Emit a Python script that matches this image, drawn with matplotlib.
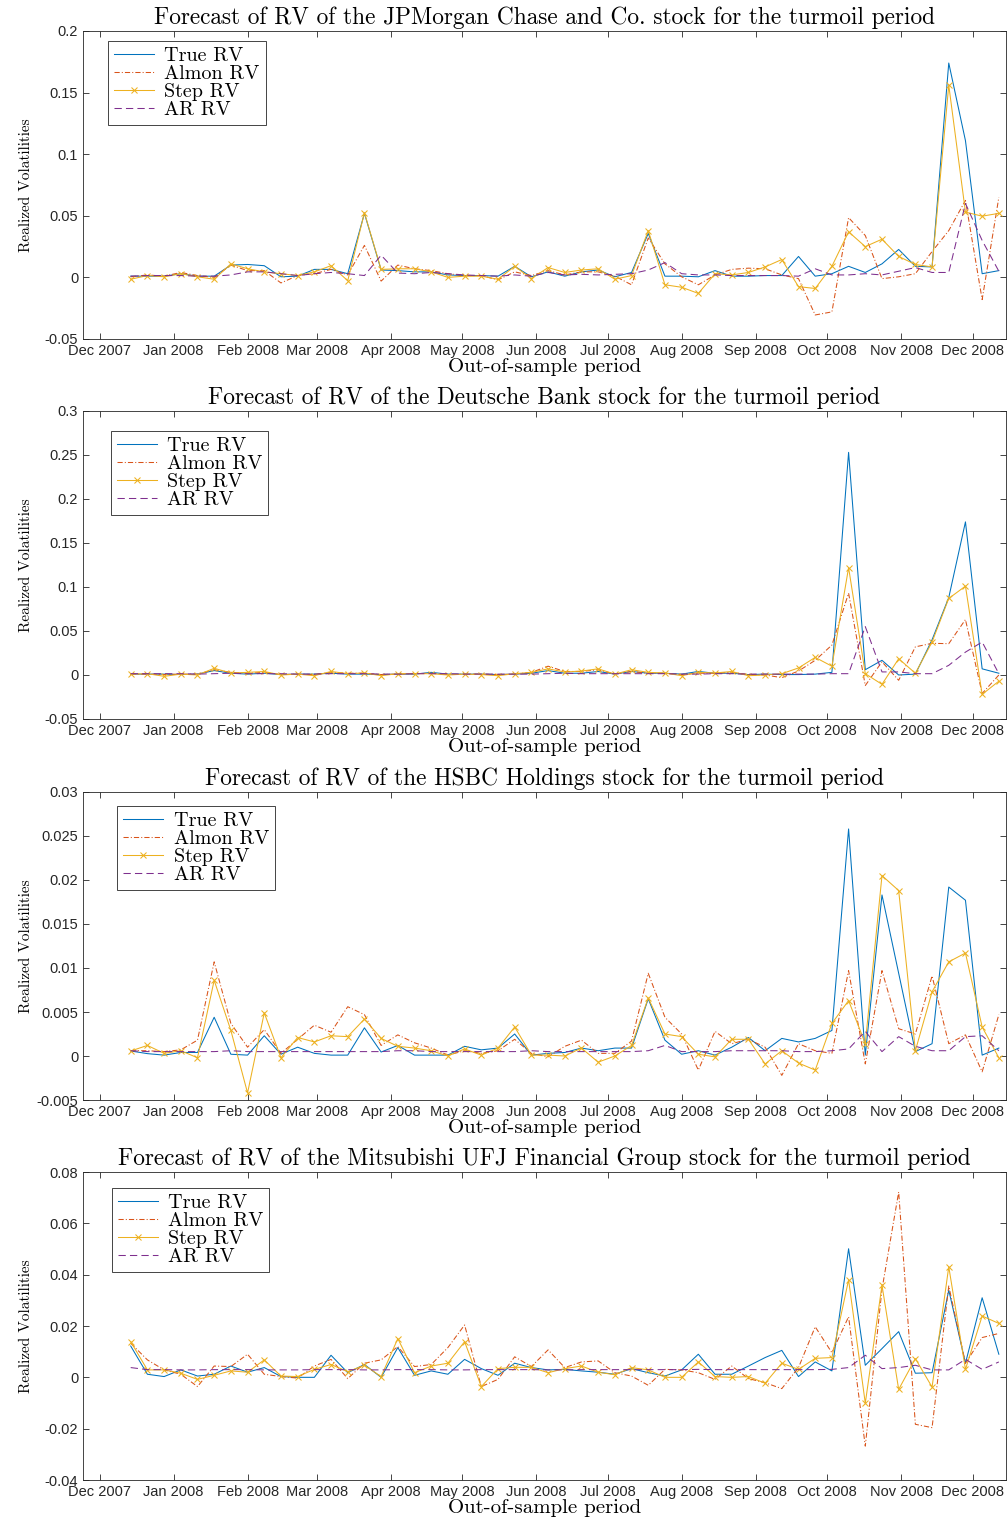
import datetime as dt
import numpy as np
import pandas as pd
import matplotlib
matplotlib.use("Agg")
import matplotlib.pyplot as plt
import matplotlib.dates as mdates
from matplotlib.ticker import FormatStrFormatter

# weekly out-of-sample dates
dates = pd.date_range("2007-12-14", periods=53, freq="7D")

# JPMorgan
true_jpm = [0.001, 0.001, 0.001, 0.003, 0.001, 0.001, 0.010, 0.0105, 0.0095, 0.0005,
            0.001, 0.0065, 0.0065, 0.003, 0.052, 0.006, 0.0055, 0.0045, 0.0045, 0.002,
            0.0015, 0.0015, 0.001, 0.009, 0.0005, 0.0045, 0.001, 0.0045, 0.006, 0.0005,
            0.004, 0.0357, 0.001, 0.001, 0.0005, 0.0055, 0.001, 0.001, 0.0015, 0.0015,
            0.017, 0.001, 0.003, 0.009, 0.004, 0.011, 0.0227, 0.009, 0.0085, 0.174,
            0.111, 0.003, 0.0055]
almon_jpm = [0.0005, 0.002, 0.001, 0.004, 0.0015, 0.0, 0.010, 0.0055, 0.0055, -0.0045,
             0.0015, 0.003, 0.0065, 0.002, 0.026, -0.003, 0.010, 0.007, 0.0055, 0.003,
             0.0015, 0.0015, -0.002, 0.0045, 0.0015, 0.0055, 0.002, 0.0045, 0.0045, 0.001,
             -0.006, 0.032, 0.011, 0.0005, -0.006, 0.002, 0.0065, 0.0075, 0.007, 0.002,
             -0.001, -0.0305, -0.028, 0.0485, 0.034, -0.001, 0.0005, 0.003, 0.021, 0.038,
             0.0625, -0.018, 0.065]
step_jpm = [-0.0015, 0.0015, 0.0005, 0.003, 0.0005, -0.0015, 0.011, 0.007, 0.0045, 0.003,
            0.0015, 0.0045, 0.0095, -0.0027, 0.0525, 0.0065, 0.007, 0.007, 0.0045, 0.0,
            0.001, 0.001, -0.0015, 0.009, -0.001, 0.008, 0.004, 0.006, 0.007, -0.0015,
            0.0015, 0.038, -0.006, -0.008, -0.013, 0.003, 0.002, 0.004, 0.0085, 0.0145,
            -0.0075, -0.009, 0.009, 0.037, 0.025, 0.031, 0.017, 0.0105, 0.0085, 0.156,
            0.053, 0.0497, 0.052]
ar_jpm = [0.001, 0.0015, 0.0015, 0.0015, 0.001, 0.001, 0.002, 0.0045, 0.0045, 0.003,
          0.0015, 0.003, 0.004, 0.003, 0.0015, 0.018, 0.0035, 0.003, 0.004, 0.003,
          0.002, 0.0015, 0.001, 0.002, 0.001, 0.004, 0.002, 0.0025, 0.002, 0.0025,
          0.003, 0.006, 0.012, 0.003, 0.002, 0.002, 0.0015, 0.0015, 0.0015, 0.0015,
          0.001, 0.007, 0.002, 0.002, 0.003, 0.002, 0.005, 0.008, 0.004, 0.004,
          0.060, 0.030, 0.005]

# Deutsche Bank
true_db = [0.001, 0.001, 0.001, 0.0005, 0.001, 0.005, 0.002, 0.001, 0.002, 0.0005,
           0.001, 0.001, 0.002, 0.001, 0.001, 0.0005, 0.001, 0.001, 0.003, 0.001,
           0.001, 0.001, 0.0005, 0.001, 0.002, 0.005, 0.002, 0.002, 0.004, 0.001,
           0.004, 0.002, 0.002, 0.001, 0.004, 0.002, 0.002, 0.0005, 0.001, 0.0005,
           0.0005, 0.001, 0.003, 0.253, 0.006, 0.0167, 0.0, 0.001, 0.040, 0.088,
           0.174, 0.007, 0.002]
almon_db = [0.001, 0.001, 0.0005, 0.001, 0.001, 0.006, 0.003, 0.002, 0.003, 0.0005,
            0.001, 0.0005, 0.003, 0.002, 0.002, 0.0005, 0.001, 0.0015, 0.002, 0.0005,
            0.001, 0.001, 0.0005, 0.001, 0.003, 0.010, 0.004, 0.004, 0.006, 0.001,
            0.004, 0.002, 0.002, 0.0005, 0.002, 0.002, 0.003, 0.0005, 0.0, -0.003,
            0.0045, 0.0167, 0.034, 0.093, -0.012, 0.015, -0.006, 0.032, 0.036, 0.0356,
            0.063, -0.021, 0.0]
step_db = [0.001, 0.0015, -0.0015, 0.001, 0.0, 0.0076, 0.0023, 0.003, 0.004, 0.0,
           0.001, -0.0008, 0.004, 0.0015, 0.0023, -0.0008, 0.0015, 0.0015, 0.0015, 0.0,
           0.001, 0.0005, -0.0008, 0.0015, 0.003, 0.007, 0.0034, 0.0045, 0.007, 0.001,
           0.006, 0.003, 0.0023, -0.0008, 0.003, 0.0023, 0.004, -0.0008, 0.0, 0.0015,
           0.008, 0.020, 0.010, 0.122, 0.0015, -0.0106, 0.0185, 0.002, 0.0375, 0.087,
           0.101, -0.022, -0.007]
ar_db = [0.0015, 0.0015, 0.0015, 0.0015, 0.001, 0.0015, 0.002, 0.0015, 0.0015, 0.0015,
         0.001, 0.001, 0.0015, 0.0015, 0.0015, 0.001, 0.001, 0.0015, 0.0015, 0.0015,
         0.001, 0.001, 0.001, 0.001, 0.001, 0.0015, 0.002, 0.0015, 0.0015, 0.0015,
         0.0015, 0.0015, 0.0015, 0.001, 0.001, 0.0015, 0.0015, 0.001, 0.001, 0.001,
         0.001, 0.001, 0.0015, 0.0015, 0.055, 0.0035, 0.0035, 0.0015, 0.0015, 0.011,
         0.026, 0.0375, 0.0015]

# HSBC
true_hsbc = [0.00057, 0.00027, 0.0001, 0.0004, 0.0004, 0.0044, 0.0002, 0.0001, 0.0023, 0.0002,
             0.001, 0.0003, 0.0001, 0.0001, 0.0032, 0.00045, 0.0012, 0.0001, 0.0001, 0.0001,
             0.0011, 0.0007, 0.0009, 0.0025, 0.0001, 0.0003, 0.0004, 0.0009, 0.0006, 0.0009,
             0.0009, 0.0065, 0.0018, 0.0002, 0.0006, 0.0001, 0.001, 0.0021, 0.0006, 0.002,
             0.0016, 0.002, 0.0029, 0.0258, 0.0001, 0.0183, 0.0094, 0.0005, 0.0014, 0.0192,
             0.0177, 0.0001, 0.0009]
almon_hsbc = [0.0006, 0.0006, 0.0005, 0.0007, 0.0018, 0.0107, 0.0037, 0.001, 0.003, 0.0003,
              0.0019, 0.0035, 0.0027, 0.0056, 0.0047, 0.0012, 0.0024, 0.0015, 0.0009, 0.0001,
              0.0006, 0.0003, 0.0006, 0.0019, 0.0003, -0.0001, 0.0011, 0.0018, 0.0003, 0.0003,
              0.0017, 0.0094, 0.0044, 0.0025, -0.0016, 0.0028, 0.0014, 0.0019, 0.001, -0.0022,
              0.0014, 0.0006, 0.0003, 0.0097, -0.0009, 0.0097, 0.0031, 0.0025, 0.0091, 0.0014,
              0.0024, -0.0018, 0.0047]
step_hsbc = [0.00057, 0.0012, 0.0003, 0.0006, -0.0002, 0.0086, 0.0029, -0.0042, 0.0049, -0.0002,
             0.0021, 0.0016, 0.0023, 0.0022, 0.0042, 0.002, 0.0011, 0.0009, 0.0006, 0.0,
             0.0008, 0.0001, 0.0009, 0.0033, 0.0001, 0.0001, 0.0, 0.0009, -0.0007, 0.0,
             0.0012, 0.0066, 0.0025, 0.0022, 0.0002, -0.0001, 0.0019, 0.0019, -0.0009, 0.0006,
             -0.0008, -0.0016, 0.0037, 0.0063, 0.0014, 0.0205, 0.0188, 0.0006, 0.0073, 0.0107,
             0.0117, 0.0033, -0.0002]
ar_hsbc = [0.0006, 0.0005, 0.0005, 0.0005, 0.0005, 0.0005, 0.0006, 0.0005, 0.0005, 0.0005,
           0.0005, 0.0005, 0.0005, 0.0005, 0.0005, 0.0005, 0.0006, 0.0006, 0.0005, 0.0005,
           0.0005, 0.0005, 0.0005, 0.0005, 0.0006, 0.0005, 0.0005, 0.0005, 0.0005, 0.0005,
           0.0005, 0.0006, 0.0012, 0.0005, 0.0005, 0.0005, 0.0006, 0.0006, 0.0006, 0.0006,
           0.0005, 0.0005, 0.0006, 0.0008, 0.0028, 0.0005, 0.0022, 0.0011, 0.0006, 0.0006,
           0.0022, 0.0023, 0.0006]

# Mitsubishi UFJ
true_mufg = [0.0122, 0.0012, 0.0003, 0.0029, 0.0005, 0.0012, 0.0044, 0.002, 0.0038, 0.0003,
             0.0, 0.0, 0.0086, 0.0018, 0.005, 0.0, 0.0116, 0.0008, 0.0025, 0.0012,
             0.007, 0.0034, 0.0008, 0.0055, 0.0038, 0.0029, 0.0031, 0.0025, 0.002, 0.0012,
             0.0034, 0.0018, 0.0005, 0.0029, 0.009, 0.0012, 0.0012, 0.0044, 0.0077, 0.0105,
             0.0003, 0.006, 0.0025, 0.0501, 0.0047, 0.0112, 0.0178, 0.0016, 0.0018, 0.034,
             0.0055, 0.031, 0.009]
almon_mufg = [0.0133, 0.0068, 0.0029, 0.0012, -0.0036, 0.0044, 0.0042, 0.009, 0.0012, 0.0003,
              -0.0003, 0.0044, 0.007, -0.0005, 0.0055, 0.0068, 0.012, 0.0042, 0.005, 0.0116,
              0.0204, -0.0036, -0.0008, 0.008, 0.0042, 0.0107, 0.0038, 0.006, 0.0064, 0.0018,
              0.0005, -0.0031, 0.0031, 0.0029, 0.0018, -0.0008, 0.0044, -0.0005, -0.0021, -0.0044,
              0.0038, 0.0197, 0.0096, 0.0236, -0.0268, 0.0343, 0.0722, -0.0183, -0.0196, 0.0356,
              0.0055, 0.0155, 0.0171]
step_mufg = [0.0139, 0.0029, 0.0029, 0.0016, -0.0008, 0.0008, 0.0025, 0.002, 0.0068, 0.0005,
             0.0003, 0.0031, 0.005, 0.0022, 0.0047, 0.0003, 0.0151, 0.0018, 0.0044, 0.0055,
             0.0139, -0.0036, 0.0034, 0.0039, 0.0039, 0.0018, 0.0034, 0.0044, 0.002, 0.001,
             0.0038, 0.0029, 0.0, 0.0, 0.006, 0.0003, 0.0, 0.0003, -0.0023, 0.0055,
             0.0031, 0.0074, 0.0077, 0.038, -0.0101, 0.0359, -0.0047, 0.0073, -0.0038, 0.0431,
             0.0031, 0.0239, 0.021]
ar_mufg = [0.0038, 0.003, 0.003, 0.0029, 0.0029, 0.003, 0.003, 0.003, 0.0029, 0.0029,
           0.0029, 0.003, 0.003, 0.003, 0.0029, 0.0029, 0.003, 0.003, 0.003, 0.0029,
           0.0029, 0.003, 0.003, 0.003, 0.003, 0.0029, 0.0029, 0.003, 0.003, 0.003,
           0.003, 0.003, 0.003, 0.003, 0.0031, 0.003, 0.003, 0.003, 0.003, 0.003,
           0.003, 0.003, 0.0031, 0.0038, 0.0086, 0.0034, 0.0038, 0.0047, 0.0029, 0.0029,
           0.007, 0.0031, 0.006]

# y tick values per panel
yticks_jpm = [-0.05, 0, 0.05, 0.1, 0.15, 0.2]
yticks_db = [-0.05, 0, 0.05, 0.1, 0.15, 0.2, 0.25, 0.3]
yticks_hsbc = [-0.005, 0, 0.005, 0.01, 0.015, 0.02, 0.025, 0.03]
yticks_mufg = [-0.04, -0.02, 0, 0.02, 0.04, 0.06, 0.08]

panels = [
    ("JPMorgan Chase and Co.", true_jpm, almon_jpm, step_jpm, ar_jpm, yticks_jpm, (0.027, 0.968)),
    ("Deutsche Bank", true_db, almon_db, step_db, ar_db, yticks_db, (0.030, 0.935)),
    ("HSBC Holdings", true_hsbc, almon_hsbc, step_hsbc, ar_hsbc, yticks_hsbc, (0.037, 0.955)),
    ("Mitsubishi UFJ Financial Group", true_mufg, almon_mufg, step_mufg, ar_mufg,
     yticks_mufg, (0.031, 0.948)),
]

serif = "cmr10"
axcol = "#262626"
W, H = 1007, 1517
fig = plt.figure(figsize=(W / 100, H / 100), dpi=100)

tops = [31, 411, 792, 1172]
for (name, tr, al, st, ar, yt, legpos), top in zip(panels, tops):
    ax = fig.add_axes([83 / W, 1 - (top + 308) / H, 923 / W, 308 / H])
    ax.plot(dates, tr, color="#0072BD", lw=0.75, label="True RV")
    ax.plot(dates, al, color="#D95319", lw=0.75, linestyle=(0, (5, 2, 1, 2)), label="Almon RV")
    ax.plot(dates, st, color="#EDB120", lw=0.75, marker="x", ms=4.5, mew=0.75, label="Step RV")
    ax.plot(dates, ar, color="#7E2F8E", lw=0.75, linestyle=(0, (7, 4)), label="AR RV")

    ax.set_xlim(dt.datetime(2007, 11, 24), dt.datetime(2008, 12, 15))
    ax.xaxis.set_major_locator(mdates.MonthLocator(bymonthday=1))
    ax.xaxis.set_major_formatter(mdates.DateFormatter("%b %Y"))
    ax.set_ylim(yt[0], yt[-1])
    ax.set_yticks(yt)
    ax.yaxis.set_major_formatter(FormatStrFormatter("%g"))
    ax.tick_params(direction="in", top=True, right=True, length=4, width=0.6,
                   colors=axcol, labelsize=10.5, labelfontfamily="Liberation Sans")
    for sp in ax.spines.values():
        sp.set_color(axcol)
        sp.set_linewidth(0.6)

    ax.set_title(f"Forecast of RV of the {name} stock for the turmoil period",
                 fontfamily=serif, fontsize=16.8, pad=5)
    ax.set_xlabel("Out-of-sample period", fontfamily=serif, fontsize=15, labelpad=0)
    ax.set_ylabel("Realized Volatilities", fontfamily=serif, fontsize=11)
    ax.yaxis.set_label_coords(-0.054, 0.5)

    leg = ax.legend(loc="upper left", bbox_to_anchor=legpos, borderaxespad=0,
                    prop={"family": serif, "size": 14.5}, fancybox=False,
                    edgecolor=axcol, framealpha=1, handlelength=2.0,
                    labelspacing=0.0, borderpad=0.3, handletextpad=0.5)
    leg.get_frame().set_linewidth(0.6)

fig.savefig("out.png", dpi=100)
